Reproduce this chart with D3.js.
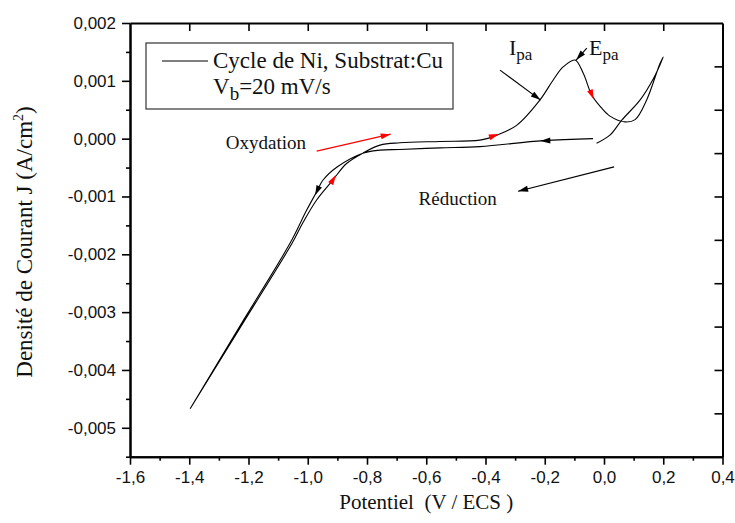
<!DOCTYPE html>
<html>
<head>
<meta charset="utf-8">
<script src="https://cdn.jsdelivr.net/npm/d3@7"></script>
<style>
  body { margin: 0; background: #fff; }
  .tick text { font-family: "Liberation Sans", Arial, sans-serif; font-size: 17px; fill: #111; }
  .serif { font-family: "Liberation Serif", "Times New Roman", serif; fill: #111; white-space: pre; }
</style>
</head>
<body>
<script>
// ---- data ----
const potential = [-0.037, -0.206, -0.419, -0.554, -0.689, -0.756, -0.814, -0.901, -0.949, -0.970, -1.004, -1.060, -1.229, -1.397,
                   -1.226, -1.053, -1.016, -0.970, -0.916, -0.869, -0.814, -0.756, -0.689, -0.554, -0.419, -0.361, -0.295, -0.216,
                   -0.172, -0.138, -0.098, -0.070, -0.041, -0.010, 0.020, 0.071, 0.105, 0.144, 0.189, 0.200, 0.167, 0.122, 0.060,
                   0.020, -0.025];
const current = [0.00000, -0.000034, -0.000138, -0.000159, -0.000187, -0.000199, -0.000251, -0.00049, -0.00072, -0.00092, -0.00124, -0.00181, -0.00324, -0.00467,
                 -0.00325, -0.00181, -0.00145, -0.00106, -0.00072, -0.00043, -0.00025, -0.000112, -0.000072, -0.000048, -0.000026, 0.000061, 0.00023, 0.00067,
                 0.00101, 0.00124, 0.00136, 0.00113, 0.00075, 0.00054, 0.00039, 0.00029, 0.00033, 0.00067, 0.00130, 0.00141, 0.00104, 0.00067, 0.00032,
                 0.00006, -0.00008];

const xTicks = [-1.6, -1.4, -1.2, -1.0, -0.8, -0.6, -0.4, -0.2, 0.0, 0.2, 0.4];
const xTickLabels = ["-1,6", "-1,4", "-1,2", "-1,0", "-0,8", "-0,6", "-0,4", "-0,2", "0,0", "0,2", "0,4"];
const xMinor = [-1.5, -1.3, -1.1, -0.9, -0.7, -0.5, -0.3, -0.1, 0.1, 0.3];
const yTicks = [0.002, 0.001, 0.000, -0.001, -0.002, -0.003, -0.004, -0.005];
const yTickLabels = ["0,002", "0,001", "0,000", "-0,001", "-0,002", "-0,003", "-0,004", "-0,005"];
const yMinor = [0.0015, 0.0005, -0.0005, -0.0015, -0.0025, -0.0035, -0.0045, -0.0055];

// small arrowheads sitting on the curve: [tail V, tail J, tip V, tip J, colour]
const curveHeads = [
  [-0.955, -0.00075, -0.975, -0.00098, "black"],
  [-0.935, -0.00088, -0.905, -0.00063, "red"],
  [-0.400, 0.00000, -0.355, 0.00008, "red"],
  [-0.060, 0.00100, -0.035, 0.00068, "red"],
  [-0.170, -0.00003, -0.215, -0.00004, "black"]
];
// annotation arrows: [from V, from J, to V, to J, colour]
const notes = [
  [-0.970, -0.000216, -0.720, 0.000078, "red"],
  [0.034, -0.000488, -0.290, -0.000909, "black"],
  [-0.351, 0.001186, -0.214, 0.000667, "black"],
  [-0.058, 0.001567, -0.094, 0.001359, "black"]
];

const W = 735, H = 523;
const svg = d3.select("body").append("svg").attr("width", W).attr("height", H);

var x = d3.scaleLinear().domain([-1.6, 0.4]).range([130, 722.5]);
var y = d3.scaleLinear().domain([-0.0055, 0.002]).range([456.7, 23]);
// right-hand axis of the original is divided in ten equal parts
var yRightTicks = d3.range(0, 11).map(i => -0.0055 + i * 0.00075);

// frame axes
svg.append("g").attr("transform", "translate(0," + y.range()[0] + ")")
  .call(d3.axisBottom(x).tickValues(xTicks).tickFormat((d, i) => xTickLabels[i]).tickSize(8).tickSizeOuter(0).tickPadding(6));
svg.append("g").attr("transform", "translate(0," + y.range()[0] + ")")
  .call(d3.axisBottom(x).tickValues(xMinor).tickFormat("").tickSize(4).tickSizeOuter(0));
svg.append("g").attr("transform", "translate(" + x.range()[0] + ",0)")
  .call(d3.axisLeft(y).tickValues(yTicks).tickFormat((d, i) => yTickLabels[i]).tickSize(8).tickSizeOuter(0).tickPadding(6));
svg.append("g").attr("transform", "translate(" + x.range()[0] + ",0)")
  .call(d3.axisLeft(y).tickValues(yMinor).tickFormat("").tickSize(4).tickSizeOuter(0));
// top and right, ticks pointing inwards
svg.append("g").attr("transform", "translate(0," + y.range()[1] + ")")
  .call(d3.axisBottom(x).tickValues(xTicks.slice(1, -1)).tickFormat("").tickSize(8).tickSizeOuter(0));
svg.append("g").attr("transform", "translate(" + x.range()[1] + ",0)")
  .call(d3.axisLeft(y).tickValues(yRightTicks.slice(1, -1)).tickFormat("").tickSize(8).tickSizeOuter(0));

svg.selectAll(".domain").attr("stroke", "#000").attr("stroke-width", 2);
svg.selectAll(".tick line").attr("stroke", "#000").attr("stroke-width", 1.6);

// axis titles
svg.append("text").attr("class", "serif")
  .attr("x", (x.range()[0] + x.range()[1]) / 2).attr("y", 509)
  .attr("text-anchor", "middle").style("font-size", "21px")
  .text("Potentiel  (V / ECS )");
var yt = svg.append("text").attr("class", "serif")
  .attr("transform", "translate(32,242) rotate(-90)")
  .attr("text-anchor", "middle").style("font-size", "23px");
yt.append("tspan").text("Densité de Courant J (A/cm");
yt.append("tspan").attr("dy", -9).style("font-size", "14px").text("2");
yt.append("tspan").attr("dy", 9).text(")");

// the cycle
var pts = potential.map((v, i) => [v, current[i]]);
svg.append("path").datum(pts)
  .attr("fill", "none").attr("stroke", "#000").attr("stroke-width", 1.1)
  .attr("d", d3.line().x(d => x(d[0])).y(d => y(d[1])).curve(d3.curveCatmullRom.alpha(0.5)));

function head(x1, y1, x2, y2, col, len, wid) {
  var a = Math.atan2(y2 - y1, x2 - x1);
  var bx = x2 - len * Math.cos(a), by = y2 - len * Math.sin(a);
  var nx = -Math.sin(a) * wid / 2, ny = Math.cos(a) * wid / 2;
  svg.append("path")
    .attr("d", "M" + x2 + "," + y2 + "L" + (bx + nx) + "," + (by + ny) + "L" + (bx - nx) + "," + (by - ny) + "Z")
    .attr("fill", col);
}

curveHeads.forEach(h => head(x(h[0]), y(h[1]), x(h[2]), y(h[3]), h[4], 10, 6));

notes.forEach(n => {
  var x1 = x(n[0]), y1 = y(n[1]), x2 = x(n[2]), y2 = y(n[3]);
  svg.append("line").attr("x1", x1).attr("y1", y1).attr("x2", x2).attr("y2", y2)
    .attr("stroke", n[4]).attr("stroke-width", 1.1);
  head(x1, y1, x2, y2, n[4], 10, 6);
});

// annotation texts
svg.append("text").attr("class", "serif").attr("x", x(-1.141)).attr("y", y(-0.000072) + 6)
  .attr("text-anchor", "middle").style("font-size", "19px").text("Oxydation");
svg.append("text").attr("class", "serif").attr("x", x(-0.494)).attr("y", y(-0.00105) + 6)
  .attr("text-anchor", "middle").style("font-size", "19px").text("Réduction");

var ip = svg.append("text").attr("class", "serif").attr("x", 509).attr("y", 55).style("font-size", "22px");
ip.append("tspan").text("I");
ip.append("tspan").attr("dy", 5).style("font-size", "17px").text("pa");
var ep = svg.append("text").attr("class", "serif").attr("x", 589).attr("y", 55).style("font-size", "22px");
ep.append("tspan").text("E");
ep.append("tspan").attr("dy", 5).style("font-size", "17px").text("pa");

// legend
var lg = svg.append("g");
lg.append("rect").attr("x", 146).attr("y", 43).attr("width", 307).attr("height", 66)
  .attr("fill", "none").attr("stroke", "#333").attr("stroke-width", 1.2);
lg.append("line").attr("x1", 162).attr("x2", 208).attr("y1", 61).attr("y2", 61)
  .attr("stroke", "#000").attr("stroke-width", 1.1);
lg.append("text").attr("class", "serif").attr("x", 213).attr("y", 68).style("font-size", "23px")
  .text("Cycle de Ni, Substrat:Cu");
var vb = lg.append("text").attr("class", "serif").attr("x", 213).attr("y", 94).style("font-size", "23px");
vb.append("tspan").text("V");
vb.append("tspan").attr("dy", 6).style("font-size", "19px").text("b");
vb.append("tspan").attr("dy", -6).text("=20 mV/s");
</script>
</body>
</html>
